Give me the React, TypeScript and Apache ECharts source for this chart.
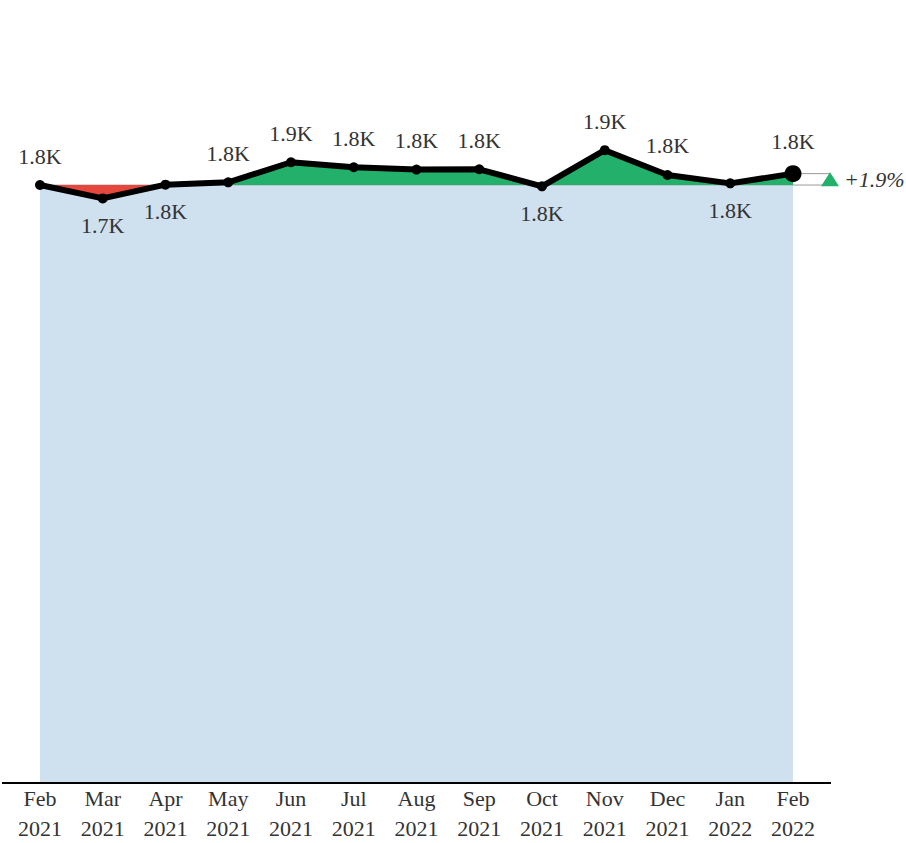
import React, { useEffect, useRef } from "react";
import * as echarts from "echarts";

const months = [
  "Feb 2021", "Mar 2021", "Apr 2021", "May 2021", "Jun 2021", "Jul 2021", "Aug 2021",
  "Sep 2021", "Oct 2021", "Nov 2021", "Dec 2021", "Jan 2022", "Feb 2022",
];
const values = [1785, 1745, 1786, 1793, 1853, 1838, 1831, 1832, 1781, 1889, 1815, 1790, 1819];
const labelSide = ["top", "bottom", "bottom", "top", "top", "top", "top", "top", "bottom", "top", "top", "bottom", "top"];
const yMin = 0;
const yMax = 2000;

const FONT = "Liberation Serif";
const GREEN = "#22b06b";
const RED = "#e5473d";
const BLUE = "#cfe0ef";
const TEXT = "#333333";

export default function App() {
  const ref = useRef<HTMLDivElement>(null);
  useEffect(() => {
    if (!ref.current) return;
    const chart = echarts.init(ref.current, undefined, { renderer: "svg" });
    const base = values[0];
    const last = values[values.length - 1];
    const lastIdx = values.length - 1;
    const fmt = (v: number) => (v / 1000).toFixed(1) + "K";
    const hi = Math.max(base, ...values);
    const lo = Math.min(base, ...values);
    const off = hi === lo ? 1 : (hi - base) / (hi - lo);

    const fill = new echarts.graphic.LinearGradient(0, 0, 0, 1, [
      { offset: 0, color: GREEN },
      { offset: off, color: GREEN },
      { offset: off, color: RED },
      { offset: 1, color: RED },
    ]);

    chart.setOption({
      animation: false,
      textStyle: { fontFamily: FONT },
      grid: { left: 40, right: 113, top: 113, bottom: 58, containLabel: false },
      xAxis: {
        type: "category",
        data: months,
        boundaryGap: false,
        axisLine: { show: false },
        axisTick: { show: false },
        splitLine: { show: false },
        axisLabel: {
          interval: 0,
          margin: 0,
          formatter: (v: string) => v.replace(" ", "\n"),
          fontFamily: FONT,
          fontSize: 22,
          lineHeight: 30,
          color: TEXT,
        },
      },
      yAxis: {
        type: "value",
        min: yMin,
        max: yMax,
        show: false,
        splitLine: { show: false },
      },
      series: [
        {
          type: "line",
          data: months.map(() => base),
          symbol: "none",
          silent: true,
          lineStyle: { width: 1, color: "#a9b3b0" },
          areaStyle: { color: BLUE, opacity: 1, origin: "start" },
          z: 1,
        },
        {
          type: "line",
          data: values,
          symbol: "none",
          silent: true,
          lineStyle: { width: 0 },
          areaStyle: { opacity: 1, origin: base, color: fill },
          z: 2,
        },
        {
          type: "line",
          data: values.map((v, i) => ({
            value: v,
            symbolSize: i === lastIdx ? 17 : 10,
            label: {
              position: labelSide[i],
              distance: labelSide[i] === "top" ? 13 : 11,
            },
          })),
          symbol: "circle",
          lineStyle: { width: 6, color: "#000" },
          itemStyle: { color: "#000" },
          label: {
            show: true,
            formatter: (p: any) => fmt(p.value),
            fontFamily: FONT,
            fontSize: 22,
            color: TEXT,
          },
          z: 3,
        },
      ],
    });

    const pLast = chart.convertToPixel({ gridIndex: 0 }, [lastIdx, last]) as number[];
    const pBaseLast = chart.convertToPixel({ gridIndex: 0 }, [lastIdx, base]) as number[];
    const pZero = chart.convertToPixel({ gridIndex: 0 }, [0, 0]) as number[];
    const pct = ((last - base) / base) * 100;
    const triX = pLast[0] + 37;
    const midY = (pLast[1] + pBaseLast[1]) / 2;
    const up = pct >= 0;

    chart.setOption({
      graphic: [
        {
          type: "line",
          shape: { x1: 2, y1: pZero[1], x2: 831, y2: pZero[1] },
          style: { stroke: "#000", lineWidth: 2 },
          z: 10,
        },
        {
          type: "line",
          shape: { x1: pLast[0], y1: pLast[1], x2: triX, y2: pLast[1] },
          style: { stroke: "#999", lineWidth: 1 },
          z: 0,
        },
        {
          type: "line",
          shape: { x1: pBaseLast[0], y1: pBaseLast[1], x2: triX, y2: pBaseLast[1] },
          style: { stroke: "#999", lineWidth: 1 },
          z: 0,
        },
        {
          type: "polygon",
          shape: {
            points: up
              ? [[triX - 9, midY + 7], [triX + 9, midY + 7], [triX, midY - 7]]
              : [[triX - 9, midY - 7], [triX + 9, midY - 7], [triX, midY + 7]],
          },
          style: { fill: up ? GREEN : RED },
          z: 5,
        },
        {
          type: "text",
          x: triX + 14,
          y: midY,
          style: {
            text: (up ? "+" : "") + pct.toFixed(1) + "%",
            fontFamily: FONT,
            fontSize: 22,
            fontStyle: "italic",
            fill: TEXT,
            verticalAlign: "middle",
            align: "left",
          },
          z: 5,
        },
      ],
    });

    return () => chart.dispose();
  }, []);

  return (
    <div
      ref={ref}
      style={{ position: "fixed", left: 0, top: 0, width: 906, height: 843, background: "#fff" }}
    />
  );
}
